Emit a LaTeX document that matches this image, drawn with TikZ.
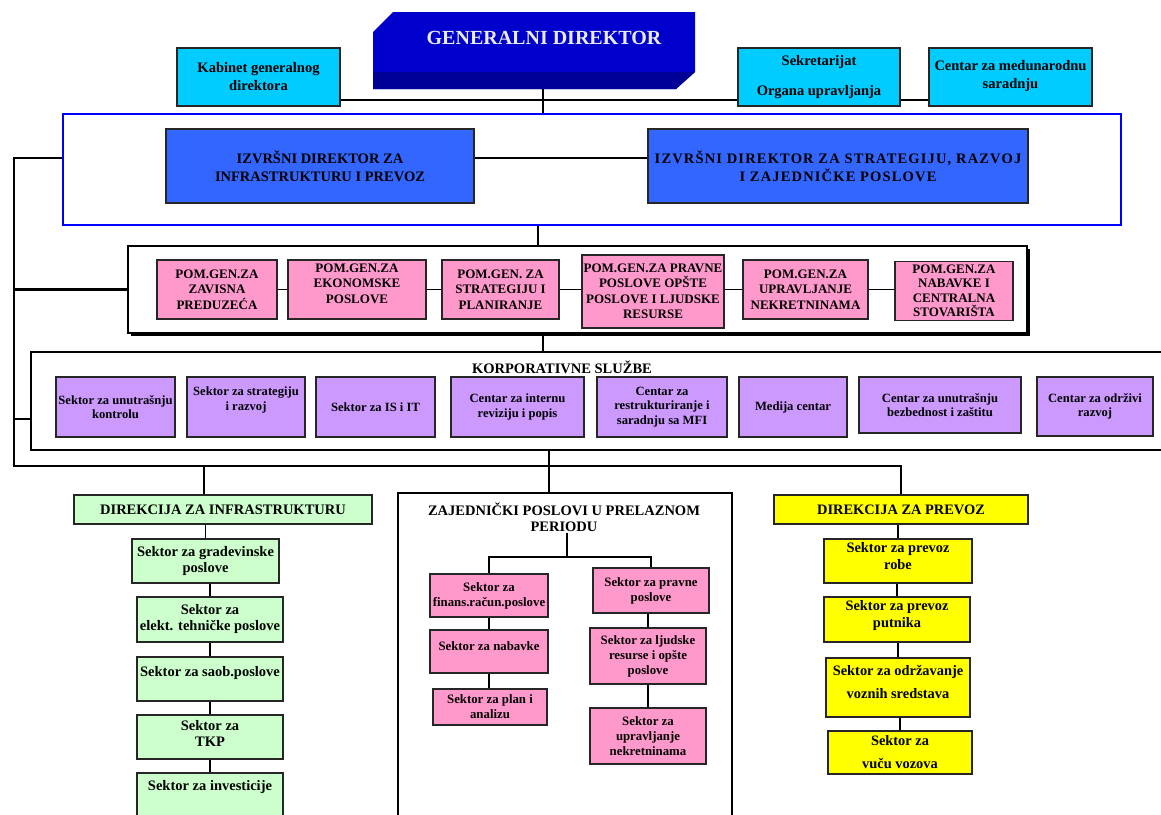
\documentclass[tikz,border=0pt]{standalone}
\usepackage{fontspec}
\setmainfont{Liberation Serif}
\usetikzlibrary{shadows}
\definecolor{cyanC}{RGB}{0,204,255}
\definecolor{gdC}{RGB}{0,0,204}
\definecolor{gdD}{RGB}{0,0,150}
\definecolor{exC}{RGB}{51,102,255}
\definecolor{frameB}{RGB}{0,0,255}
\definecolor{pinkC}{RGB}{255,153,204}
\definecolor{violC}{RGB}{204,153,255}
\definecolor{greenC}{RGB}{204,255,204}
\definecolor{yellC}{RGB}{255,255,0}
\definecolor{gdT}{RGB}{235,235,245}
\begin{document}
\begin{tikzpicture}[x=1pt,y=-1pt,
 box/.style={draw=black!85,line width=1.1pt,align=center,inner sep=1pt},
 cbox/.style={box,fill=cyanC,font={\fontsize{14.5}{18}\selectfont\bfseries}},
 exbox/.style={box,fill=exC,minimum height=74pt,font={\fontsize{14.5}{18}\selectfont\bfseries}},
 pbox/.style={box,fill=pinkC,font={\fontsize{13}{15.5}\selectfont\bfseries}},
 kbox/.style={box,fill=violC,minimum height=60pt,font={\fontsize{12.6}{14.5}\selectfont\bfseries}},
 gbox/.style={box,fill=greenC,font={\fontsize{14.5}{16}\selectfont\bfseries}},
 ybox/.style={box,fill=yellC,font={\fontsize{14.4}{17}\selectfont\bfseries}},
 mbox/.style={box,fill=pinkC,font={\fontsize{12.8}{15}\selectfont\bfseries}},
 frame/.style={draw=black,line width=2pt,inner sep=0pt},
 conn/.style={draw=black,line width=1.4pt},
 thickconn/.style={draw=black,line width=2.6pt},
]
\useasboundingbox (0,0) rectangle (1161,814);
\clip (0,0) rectangle (1161,814);
\fill[white] (0,0) rectangle (1161,814);

% ---------- Generalni direktor (3D block)
\fill[gdC] (393,12) -- (695,12) -- (695,72) -- (676,89) -- (373,89) -- (373,32) -- cycle;
\fill[gdD] (373,72) -- (695,72) -- (676,89) -- (373,89) -- cycle;
\node[text=gdT,font={\fontsize{20}{24}\selectfont\bfseries}] (gd) at (544,38) {GENERALNI DIREKTOR};
\coordinate (gdbot) at (543,89);
\coordinate (gdline) at (543,100);

\node[cbox,minimum width=163pt,minimum height=58pt] (kab) at (258.5,77) {Kabinet generalnog\\direktora};
\node[cbox,minimum width=162pt,minimum height=58pt] (sek) at (819,77) {Sekretarijat\\[12pt]Organa upravljanja};
\node[cbox,minimum width=163pt,minimum height=58pt] (cen) at (1010.5,77) {Centar za medunarodnu\\saradnju\\[-12pt]\mbox{}};

% ---------- executive frame
\node[draw=frameB,line width=2.2pt,minimum width=1058pt,minimum height=111pt,inner sep=0pt] (exf) at (592,169.5) {};
\node[exbox,minimum width=308pt] (ex1) at (320,166) {IZVRŠNI DIREKTOR ZA\\INFRASTRUKTURU I PREVOZ};
\node[exbox,minimum width=380pt,font={\fontsize{14.5}{18}\selectfont\bfseries\addfontfeature{LetterSpace=8}}] (ex2) at (838,166) {IZVRŠNI DIREKTOR ZA STRATEGIJU, RAZVOJ\\I ZAJEDNIČKE POSLOVE};
\coordinate (exl) at (300,158);
\coordinate (bus1) at (14,158);
\coordinate (bus2) at (14,466);
\coordinate (exv) at (538,235);

% ---------- POM.GEN frame
\node[frame,fill=white,drop shadow={shadow xshift=2.5pt,shadow yshift=-2.5pt,fill=black,opacity=1},minimum width=899pt,minimum height=87pt] (pomf) at (577.5,289.5) {};
\node[pbox,minimum width=120pt,minimum height=59pt] (p1) at (217,289.5) {POM.GEN.ZA\\ZAVISNA\\PREDUZEĆA};
\node[pbox,minimum width=138pt,minimum height=59pt] (p2) at (357,289.5) {POM.GEN.ZA\\EKONOMSKE\\POSLOVE\\[-3pt]\mbox{}};
\node[pbox,minimum width=117pt,minimum height=59pt] (p3) at (500.5,289.5) {POM.GEN. ZA\\STRATEGIJU I\\PLANIRANJE};
\node[pbox,minimum width=142pt,minimum height=73pt] (p4) at (653,291.5) {POM.GEN.ZA PRAVNE\\POSLOVE OPŠTE\\POSLOVE I LJUDSKE\\RESURSE};
\node[pbox,minimum width=125pt,minimum height=59pt] (p5) at (805.5,289.5) {POM.GEN.ZA\\UPRAVLJANJE\\NEKRETNINAMA};
\node[pbox,minimum width=118pt,minimum height=59pt,font={\fontsize{13}{14.5}\selectfont\bfseries}] (p6) at (954,291) {POM.GEN.ZA\\NABAVKE I\\CENTRALNA\\STOVARIŠTA};
\coordinate (kv) at (543,340);

% ---------- Korporativne sluzbe frame
\node[frame,minimum width=1144pt,minimum height=98pt] (korp) at (603,401) {};
\node[font={\fontsize{14.5}{16}\selectfont\bfseries}] (korpt) at (562,367) {KORPORATIVNE SLUŽBE};
\node[kbox,minimum width=119pt] (k1) at (115.5,407) {Sektor za unutrašnju\\kontrolu};
\node[kbox,minimum width=118pt] (k2) at (246,407) {Sektor za strategiju\\i razvoj\\[2pt]\mbox{}};
\node[kbox,minimum width=119pt] (k3) at (375.5,407) {Sektor za IS i IT};
\node[kbox,minimum width=133pt] (k4) at (517.5,407) {Centar za internu\\reviziju i popis};
\node[kbox,minimum width=130pt] (k5) at (662,407) {Centar za\\restrukturiranje i\\saradnju sa MFI};
\node[kbox,minimum width=108pt] (k6) at (793,407) {Medija centar};
\node[kbox,minimum width=162pt,minimum height=56pt] (k7) at (940,405) {Centar za unutrašnju\\bezbednost i zaštitu};
\node[kbox,minimum width=116pt,minimum height=59pt] (k8) at (1095,406.5) {Centar za održivi\\razvoj};
\coordinate (kl) at (0,419);
\coordinate (zv) at (549,470);
\coordinate (div) at (204,480);

% ---------- Direkcija za infrastrukturu
\node[gbox,minimum width=298pt,minimum height=29pt] (di) at (223,509.5) {DIREKCIJA ZA INFRASTRUKTURU};
\node[gbox,minimum width=147pt,minimum height=44pt] (g1) at (205.5,561) {Sektor za gradevinske\\poslove};
\node[gbox,minimum width=146pt,minimum height=45pt] (g2) at (210,619.5) {Sektor za\\elekt. tehničke poslove};
\node[gbox,minimum width=146pt,minimum height=44pt] (g3) at (210,679) {Sektor za saob.poslove\\\mbox{}};
\node[gbox,minimum width=146pt,minimum height=44pt] (g4) at (210,737) {Sektor za\\TKP\\[-8pt]\mbox{}};
\node[gbox,minimum width=146pt,minimum height=57pt] (g5) at (210,801.5) {Sektor za investicije\\\mbox{}\\\mbox{}};

% ---------- Zajednicki poslovi
\node[draw=black,line width=2.6pt,minimum width=334pt,minimum height=374pt,inner sep=0pt] (zaj) at (565,680) {};
\node[font={\fontsize{14.5}{16}\selectfont\bfseries},align=center,inner sep=1pt] (zt) at (564,517) {ZAJEDNIČKI POSLOVI U PRELAZNOM\\PERIODU};
\coordinate (zj) at (567,557);
\node[mbox,minimum width=118pt,minimum height=43pt] (m1) at (489,595.5) {Sektor za\\finans.račun.poslove};
\node[mbox,minimum width=118pt,minimum height=43pt] (m2) at (489,651.5) {Sektor za nabavke\\[-4pt]\mbox{}};
\node[mbox,minimum width=114pt,minimum height=36pt] (m3) at (490,707) {Sektor za plan i\\analizu};
\node[mbox,minimum width=116pt,minimum height=45pt] (m4) at (651,590.5) {Sektor za pravne\\poslove};
\node[mbox,minimum width=116pt,minimum height=56pt] (m5) at (648,656) {Sektor za ljudske\\resurse i opšte\\poslove};
\node[mbox,minimum width=116pt,minimum height=56pt] (m6) at (648,736) {Sektor za\\upravljanje\\nekretninama};

% ---------- Direkcija za prevoz
\node[ybox,minimum width=254pt,minimum height=29pt] (dp) at (901,509.5) {DIREKCIJA ZA PREVOZ};
\node[ybox,minimum width=148pt,minimum height=44pt] (y1) at (898,561) {Sektor za prevoz\\robe\\[-6pt]\mbox{}};
\node[ybox,minimum width=146pt,minimum height=45pt] (y2) at (897,619.5) {Sektor za prevoz\\putnika\\[-6pt]\mbox{}};
\node[ybox,minimum width=144pt,minimum height=59pt] (y3) at (898,687.5) {Sektor za održavanje\\[6pt]voznih sredstava\\[-6pt]\mbox{}};
\node[ybox,minimum width=144pt,minimum height=43pt] (y4) at (900,752.5) {Sektor za\\[6pt]vuču vozova};

% ---------- connectors
\draw[thickconn] (gdbot) -- (gdbot |- exf.north);
\draw[conn] (kab.east |- gdline) -- (sek.west |- gdline);
\draw[conn] (sek.east |- gdline) -- (cen.west |- gdline);
\draw[thickconn] (ex1.east |- exl) -- (ex2.west |- exl);
\draw[thickconn] (exf.west |- exl) -- (bus1) -- (bus2) -- (bus2 -| dp.north) -- (dp.north);
\draw[thickconn] (exf.south -| exv) -- (pomf.north -| exv);
\draw[thickconn] (pomf.west) -- (pomf.west -| bus1);
\draw[conn] (p1.east) -- (p2.west);
\draw[conn] (p2.east) -- (p3.west);
\draw[conn] (p3.east) -- (p4.west |- p3.east);
\draw[conn] (p4.east |- p5.west) -- (p5.west);
\draw[conn] (p5.east) -- (p6.west |- p5.east);
\draw[thickconn] (pomf.south -| kv) -- (korp.north -| kv);
\draw[thickconn] (korp.west |- kl) -- (bus1 |- kl);
\draw[thickconn] (korp.south -| zv) -- (zaj.north -| zv);
\draw[thickconn] (bus2 -| div) -- (di.north -| div);
\draw[conn] (g1.north) -- (g1.north |- di.south);
\draw[conn] (g2.north) -- (g2.north |- g1.south);
\draw[conn] (g3.north) -- (g3.north |- g2.south);
\draw[conn] (g4.north) -- (g4.north |- g3.south);
\draw[conn] (g5.north) -- (g5.north |- g4.south);
\draw[conn] (zt.south -| zj) -- (zj);
\draw[conn] (m1.north) -- (m1.north |- zj) -- (m4.north |- zj) -- (m4.north);
\draw[conn] (m1.south) -- (m2.north);
\draw[conn] (m2.south) -- (m3.north -| m2.south);
\draw[conn] (m5.north) -- (m5.north |- m4.south);
\draw[conn] (m5.south) -- (m6.north);
\draw[conn] (y1.north) -- (y1.north |- dp.south);
\draw[conn] (y2.north) -- (y2.north |- y1.south);
\draw[conn] (y3.north) -- (y3.north |- y2.south);
\draw[conn] (y4.north) -- (y4.north |- y3.south);
\end{tikzpicture}
\end{document}
